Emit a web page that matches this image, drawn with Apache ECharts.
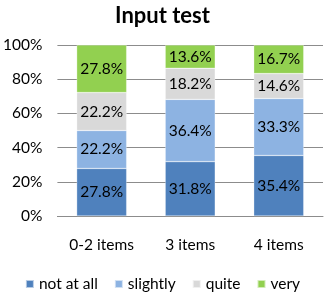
<!DOCTYPE html>
<html><head><meta charset="utf-8">
<script src="https://cdn.jsdelivr.net/npm/echarts@6/dist/echarts.min.js"></script>
<style>html,body{margin:0;padding:0;background:#fff}#c{width:325px;height:298px}</style>
</head><body><div id="c"></div>
<script>
const categories = ['0-2 items', '3 items', '4 items'];
const notAtAll = [27.8, 31.8, 35.4];
const slightly = [22.2, 36.4, 33.3];
const quite = [22.2, 18.2, 14.6];
const very = [27.8, 13.6, 16.7];
const seriesNames = ['not at all', 'slightly', 'quite', 'very'];
const colors = ['#4F81BD', '#8DB3E2', '#D9D9D9', '#92D050'];
const FONT = 'Lato';
const chart = echarts.init(document.getElementById('c'));
const data = [notAtAll, slightly, quite, very];
chart.setOption({
  animation: false,
  title: {text: 'Input test', left: 'center', top: 0, textStyle: {fontFamily: FONT, fontSize: 22, fontWeight: 'bold', color: '#000'}},
  grid: {left: 57, right: 2, top: 45, bottom: 82},
  legend: {bottom: 1, left: 'center', itemWidth: 8, itemHeight: 8, itemGap: 16, icon: 'rect',
    textStyle: {fontFamily: FONT, fontSize: 15.5, color: '#000', padding: [0,0,0,0]}, data: seriesNames},
  xAxis: {type: 'category', data: categories, axisTick: {show: false}, axisLine: {lineStyle: {color: '#8c8c8c'}},
    axisLabel: {fontFamily: FONT, fontSize: 15.5, color: '#000', margin: 21}},
  yAxis: {type: 'value', min: 0, max: 100, interval: 20, axisLabel: {formatter: '{value}%', fontFamily: FONT, fontSize: 15.5, color: '#000', margin: 15},
    splitLine: {lineStyle: {color: '#8c8c8c'}}},
  series: data.map((d, i) => ({
    name: seriesNames[i], type: 'bar', stack: 'a', barWidth: 50, data: d,
    itemStyle: {color: colors[i], borderColor: 'rgba(255,255,255,0.6)', borderWidth: 0.5},
    label: {show: true, formatter: p => p.value.toFixed(1) + '%', fontFamily: FONT, fontSize: 15.5, color: '#000'}
  }))
});
</script></body></html>
